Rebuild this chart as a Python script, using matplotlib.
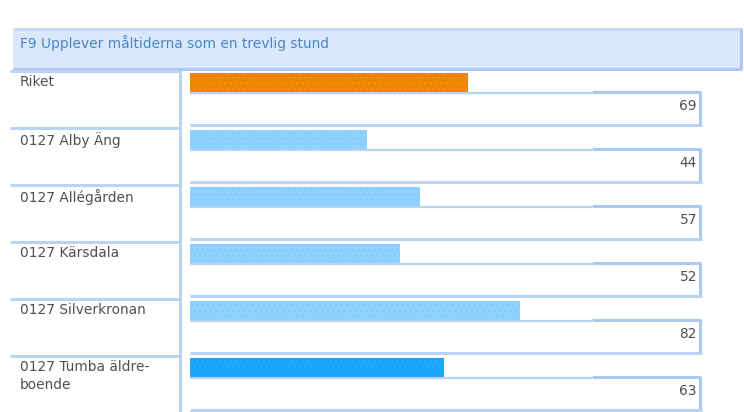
import matplotlib.pyplot as plt
from matplotlib.patches import Rectangle

title = 'F9 Upplever måltiderna som en trevlig stund'
labels = ['Riket', '0127 Alby Äng', '0127 Allégården', '0127 Kärsdala',
          '0127 Silverkronan', '0127 Tumba äldre-\nboende']
values = [69, 44, 57, 52, 82, 63]
bar_colors = ['#f08400', '#8fd2ff', '#8fd2ff', '#8fd2ff', '#8fd2ff', '#1aa4fa']
dot_colors = ['#e99a14', '#7ecbff', '#7ecbff', '#7ecbff', '#7ecbff', '#2aaafb']

line_col = '#b9d3f2'
text_col = '#505050'

fig = plt.figure(figsize=(7.44, 4.12), dpi=100)
# background axes in pixel units for the table frame
bg = fig.add_axes([0, 0, 1, 1])
bg.set_xlim(0, 744)
bg.set_ylim(412, 0)
bg.axis('off')

# title box
bg.add_patch(Rectangle((13, 29), 729, 40, facecolor='#d9e8fc', edgecolor='none'))
bg.plot([13, 742], [29, 29], color='#c3d9f5', lw=2.2, solid_capstyle='butt')
bg.plot([13, 742], [69, 69], color='#abc8ee', lw=2.2, solid_capstyle='butt')
bg.plot([741, 741], [29, 69], color='#abc8ee', lw=2.2, solid_capstyle='butt')
bg.text(20, 43, title, color='#4a86c0', fontsize=9.9, va='center', ha='left')

# left column vertical line
bg.plot([180, 180], [70, 412], color=line_col, lw=2.2, solid_capstyle='butt')

row_h = 57
for i, (lab, v) in enumerate(zip(labels, values)):
    top = 70 + row_h * i
    bg.plot([10, 180], [top + 1, top + 1], color=line_col, lw=2.2, solid_capstyle='butt')
    bg.text(20, top + 5, lab, color=text_col, fontsize=9.9, va='top', ha='left',
            linespacing=1.35)
    # under-bar line and value box
    bg.plot([190, 592], [top + 22.5, top + 22.5], color=line_col, lw=1.6, solid_capstyle='butt')
    bg.plot([592, 700], [top + 22, top + 22], color='#abc8ee', lw=2.2, solid_capstyle='butt')
    bg.plot([700, 700], [top + 21, top + 55], color='#abc8ee', lw=2.2, solid_capstyle='butt')
    bg.plot([190, 702], [top + 54.5, top + 54.5], color=line_col, lw=2.2, solid_capstyle='butt')
    bg.text(697, top + 36, str(v), color=text_col, fontsize=9.9, va='center', ha='right')

# bar axes: x in percent, y in pixel rows
ax = fig.add_axes([190 / 744, 0, (593 - 190) / 744, 1])
ax.set_xlim(0, 100)
ax.set_ylim(412, 0)
ax.axis('off')
ax.patch.set_alpha(0)

ys = [70 + row_h * i + 12.5 for i in range(len(values))]
plt.rcParams['hatch.linewidth'] = 0.8
bars = ax.barh(ys, values, height=19, color=bar_colors, linewidth=0)
for b, dc in zip(bars, dot_colors):
    b.set_hatch('...')
    b.set_edgecolor(dc)

fig.savefig('out.png', dpi=100)
